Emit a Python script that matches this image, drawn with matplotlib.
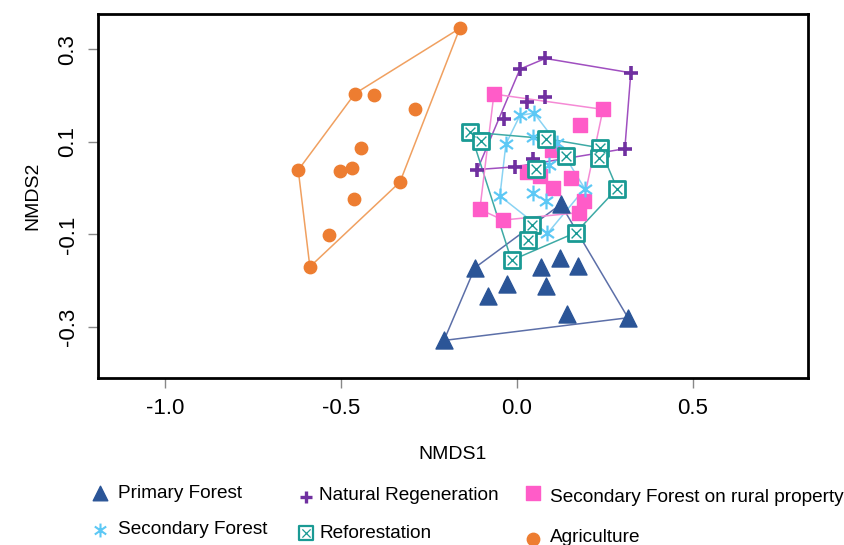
import numpy as np
import matplotlib.pyplot as plt
from matplotlib.path import Path

plt.rcParams['font.family'] = ['Liberation Sans', 'DejaVu Sans']

# NMDS scores
primary_x = [0.125, -0.119, -0.029, -0.083, 0.068, 0.123, 0.174, 0.084, 0.142, 0.316, -0.207]
primary_y = [-0.035, -0.172, -0.208, -0.233, -0.170, -0.151, -0.169, -0.212, -0.271, -0.280, -0.329]

secondary_x = [0.009, 0.049, -0.031, 0.045, 0.113, 0.092, 0.193, -0.048, 0.045, 0.082, 0.087]
secondary_y = [0.157, 0.162, 0.095, 0.111, 0.098, 0.049, -0.001, -0.017, -0.010, -0.028, -0.098]

natreg_x = [0.081, 0.009, 0.324, 0.028, 0.081, -0.037, 0.307, 0.046, -0.004, -0.112]
natreg_y = [0.280, 0.257, 0.249, 0.185, 0.196, 0.150, 0.085, 0.062, 0.046, 0.040]

refor_x = [-0.132, -0.102, 0.082, 0.139, 0.236, 0.233, 0.056, 0.285, 0.043, 0.032, 0.168, -0.015]
refor_y = [0.121, 0.102, 0.107, 0.070, 0.087, 0.066, 0.042, -0.001, -0.080, -0.113, -0.096, -0.156]

rural_x = [-0.065, 0.245, 0.179, 0.099, 0.028, 0.065, 0.153, 0.103, 0.190, 0.177, -0.105, -0.039]
rural_y = [0.203, 0.170, 0.136, 0.082, 0.035, 0.026, 0.022, 0.000, -0.028, -0.053, -0.046, -0.069]

agri_x = [-0.162, -0.460, -0.405, -0.288, -0.443, -0.621, -0.503, -0.468, -0.332, -0.463, -0.533, -0.588]
agri_y = [0.345, 0.204, 0.202, 0.170, 0.086, 0.039, 0.036, 0.044, 0.013, -0.024, -0.102, -0.170]


def hull(xs, ys):
    pts = sorted(set(zip(xs, ys)))

    def cross(o, a, b):
        return (a[0] - o[0]) * (b[1] - o[1]) - (a[1] - o[1]) * (b[0] - o[0])

    lower, upper = [], []
    for p in pts:
        while len(lower) >= 2 and cross(lower[-2], lower[-1], p) <= 0:
            lower.pop()
        lower.append(p)
    for p in reversed(pts):
        while len(upper) >= 2 and cross(upper[-2], upper[-1], p) <= 0:
            upper.pop()
        upper.append(p)
    h = lower[:-1] + upper[:-1]
    h.append(h[0])
    return [p[0] for p in h], [p[1] for p in h]


# six-armed asterisk like the R symbol in the figure
a = np.deg2rad(35)
star = Path([(0, -1), (0, 1),
             (-np.cos(a), -np.sin(a)), (np.cos(a), np.sin(a)),
             (-np.cos(a), np.sin(a)), (np.cos(a), -np.sin(a))],
            [Path.MOVETO, Path.LINETO] * 3)

fig = plt.figure(figsize=(8.45, 5.45), dpi=100)
ax = fig.add_axes([0.116, 0.306, 0.840, 0.668])

groups = [
    (primary_x, primary_y, "#2B5597", "#5C6FA8"),
    (secondary_x, secondary_y, "#5CC8F5", "#8AD3F3"),
    (natreg_x, natreg_y, "#7030A0", "#A04FC0"),
    (refor_x, refor_y, "#1A9A94", "#3DAAA5"),
    (rural_x, rural_y, "#FF5CC8", "#F58AD5"),
    (agri_x, agri_y, "#ED7D31", "#F0A060"),
]
for xs, ys, col, hcol in groups:
    hx, hy = hull(xs, ys)
    ax.plot(hx, hy, color=hcol, lw=1.1, zorder=1)

ax.scatter(agri_x, agri_y, s=80, marker='o', color="#ED7D31", zorder=3)
ax.scatter(rural_x, rural_y, s=105, marker='s', color="#FF5CC8", zorder=3)
ax.scatter(primary_x, primary_y, s=150, marker='^', color="#2B5597", zorder=3)
ax.scatter(natreg_x, natreg_y, s=110, marker='+', color="#7030A0", linewidths=2.6, zorder=4)
ax.scatter(secondary_x, secondary_y, s=130, marker=star, color="#5CC8F5", linewidths=1.6, zorder=4)
ax.scatter(refor_x, refor_y, s=125, marker='s', facecolor='white', edgecolor="#1A9A94",
           linewidths=2, zorder=5)
ax.scatter(refor_x, refor_y, s=50, marker='x', color="#1A9A94", linewidths=1.0, zorder=6)

ax.set_xlim(-1.19, 0.827)
ax.set_ylim(-0.4106, 0.3756)
ax.set_xticks([-1.0, -0.5, 0.0, 0.5])
ax.set_xticklabels(["-1.0", "-0.5", "0.0", "0.5"])
ax.set_yticks([-0.3, -0.1, 0.1, 0.3])
ax.set_yticklabels(["-0.3", "-0.1", "0.1", "0.3"], rotation=90, va='center')
ax.tick_params(direction='out', length=7, width=1, color='#888888', labelsize=16, pad=7)
for sp in ax.spines.values():
    sp.set_linewidth(2)
ax.set_xlabel("NMDS1", fontsize=14, labelpad=20)
ax.set_ylabel("NMDS2", fontsize=14, labelpad=12)

# legend below the plot
fs = 13.7
fig.text(0.140, 1 - 493 / 545, "Primary Forest", fontsize=fs, va='center')
fig.text(0.140, 1 - 530 / 545, "Secondary Forest", fontsize=fs, va='center')
fig.text(0.378, 1 - 496 / 545, "Natural Regeneration", fontsize=fs, va='center')
fig.text(0.378, 1 - 533 / 545, "Reforestation", fontsize=fs, va='center')
fig.text(0.651, 1 - 497 / 545, "Secondary Forest on rural property", fontsize=fs, va='center')
fig.text(0.651, 1 - 537 / 545, "Agriculture", fontsize=fs, va='center')

lax = fig.add_axes([0, 0, 1, 1], facecolor='none')
lax.set_xlim(0, 845)
lax.set_ylim(545, 0)
lax.axis('off')
lax.scatter([100], [493], s=110, marker='^', color="#2B5597")
lax.scatter([100], [530], s=100, marker=star, color="#5CC8F5", linewidths=1.5)
lax.scatter([306], [497], s=80, marker='+', color="#7030A0", linewidths=2.4)
lax.scatter([306], [533], s=90, marker='s', facecolor='white', edgecolor="#1A9A94", linewidths=1.6)
lax.scatter([306], [533], s=35, marker='x', color="#1A9A94", linewidths=0.9)
lax.scatter([533], [493], s=90, marker='s', color="#FF5CC8")
lax.scatter([533], [539], s=80, marker='o', color="#ED7D31")

fig.savefig("out.png", dpi=100)
